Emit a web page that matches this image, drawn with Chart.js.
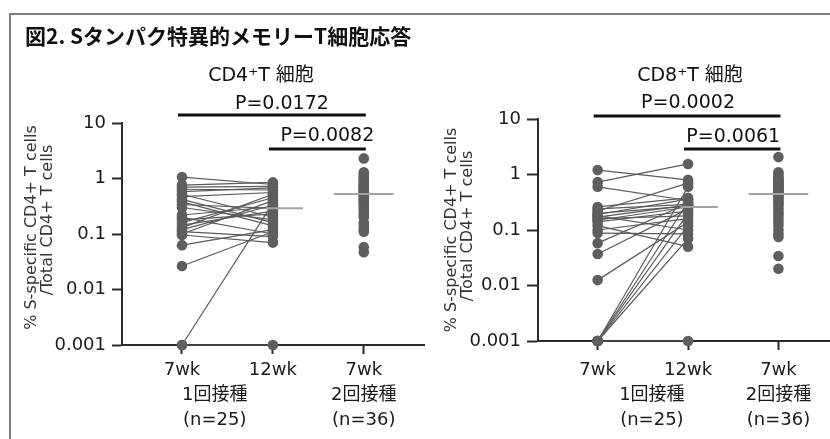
<!DOCTYPE html>
<html><head><meta charset="utf-8">
<script src="https://cdn.jsdelivr.net/npm/chart.js@4"></script>
<style>
html,body{margin:0;padding:0;background:#fff;overflow:hidden;width:830px;height:439px;}
#frame{position:absolute;left:9px;top:13px;width:900px;height:500px;border:2px solid #7d7d7d;box-sizing:border-box;}
.t{position:absolute;color:#111;white-space:nowrap;}
#title{left:25px;top:22px;font:bold 21px "Noto Sans CJK JP",sans-serif;line-height:26px;}
.sub{width:220px;text-align:center;top:62px;font:19px "DejaVu Sans","Noto Sans CJK JP",sans-serif;line-height:24px;}
canvas{position:absolute;top:0;}
</style></head>
<body>
<div id="frame"></div>
<canvas id="c1" width="430" height="439" style="left:0px"></canvas>
<canvas id="c2" width="430" height="439" style="left:420px"></canvas>
<div class="t" id="title">図2. Sタンパク特異的メモリーT細胞応答</div>
<div class="t sub" style="left:151px">CD4⁺T 細胞</div>
<div class="t sub" style="left:580px">CD8⁺T 細胞</div>
<script>
// ---- data ----
const yTickValues = [0.001, 0.01, 0.1, 1, 10];
const yTickLabels = ['0.001', '0.01', '0.1', '1', '10'];
const xLabels = ['7wk', '12wk', ['7wk', '2回接種', '(n=36)']];
const firstDoseLabel = ['', '1回接種', '(n=25)'];
const yTitle = ['% S-specific CD4+ T cells', '/Total CD4+ T cells'];

// CD4+ T cells
const cd4_1dose_7wk  = [1.06,0.76,0.70,0.64,0.58,0.52,0.47,0.42,0.38,0.34,0.30,0.22,0.20,0.18,0.16,0.145,0.13,0.12,0.11,0.10,0.096,0.063,0.0265,0.001,0.001];
const cd4_1dose_12wk = [0.78,0.85,0.72,0.62,0.68,0.20,0.56,0.16,0.14,0.29,0.18,0.31,0.10,0.23,0.45,0.26,0.52,0.33,0.09,0.40,0.07,0.12,0.11,0.36,0.001];
const cd4_2dose_7wk  = [2.3,1.3,1.2,1.1,1.0,0.95,0.9,0.85,0.8,0.75,0.72,0.68,0.65,0.62,0.6,0.58,0.56,0.53,0.52,0.48,0.45,0.42,0.4,0.37,0.34,0.31,0.28,0.25,0.22,0.2,0.16,0.14,0.12,0.11,0.058,0.047];
const cd4_pLabels = ['P=0.0172', 'P=0.0082'];

// CD8+ T cells
const cd8_1dose_7wk  = [1.2,0.73,0.6,0.26,0.24,0.22,0.2,0.19,0.18,0.17,0.16,0.15,0.14,0.12,0.1,0.088,0.058,0.037,0.0125,0.001,0.001,0.001,0.001,0.001,0.001];
const cd8_1dose_12wk = [0.8,1.55,0.34,0.38,0.29,0.7,0.27,0.36,0.1,0.28,0.18,0.26,0.22,0.05,0.16,0.085,0.3,0.24,0.14,0.6,0.32,0.2,0.12,0.07,0.001];
const cd8_2dose_7wk  = [2.06,1.1,1.0,0.9,0.85,0.8,0.76,0.72,0.68,0.65,0.62,0.6,0.57,0.54,0.52,0.5,0.48,0.46,0.435,0.41,0.38,0.35,0.32,0.29,0.26,0.23,0.2,0.18,0.16,0.14,0.12,0.1,0.085,0.075,0.034,0.02];
const cd8_pLabels = ['P=0.0002', 'P=0.0061'];

// ---- helpers ----
function median(a){const s=[...a].sort((p,q)=>p-q);const n=s.length;return n%2?s[(n-1)/2]:(s[n/2-1]+s[n/2])/2;}
const DOT='#5e5e5e', PAIR='#5a5a5a', MED='#a3a3a3', AX='#2b2b2b';
const FONT='"DejaVu Sans","Noto Sans CJK JP",sans-serif';

const annot = {
  id:'annot',
  afterDraw(chart, args, o){
    const {ctx} = chart; const x = chart.scales.x;
    ctx.save();
    o.brackets.forEach(b=>{
      const x1 = x.getPixelForValue(b.from)-4, x2 = x.getPixelForValue(b.to)+2;
      ctx.strokeStyle='#111'; ctx.lineWidth=3;
      ctx.beginPath(); ctx.moveTo(x1,b.y); ctx.lineTo(x2,b.y); ctx.stroke();
      ctx.font='19px '+FONT; ctx.fillStyle='#111'; ctx.textAlign='center'; ctx.textBaseline='middle';
      ctx.fillText(b.label,(x1+x2)/2+o.textDx,b.ty);
    });
    ctx.font='16px '+FONT; ctx.fillStyle='#333'; ctx.textAlign='center'; ctx.textBaseline='middle';
    o.yTitlePos.forEach((p,i)=>{
      ctx.save(); ctx.translate(p.x,p.y); ctx.rotate(-Math.PI/2); ctx.fillText(yTitle[i],0,0); ctx.restore();
    });
    ctx.restore();
  }
};

function makeChart(id, v7, v12, v2, pLabels, L){
  const datasets=[];
  // medians
  [[v12,0.92,1.33],[v2,1.67,2.33]].forEach(([arr,a,b])=>{
    const m=median(arr);
    datasets.push({data:[{x:a,y:m},{x:b,y:m}],showLine:true,borderColor:MED,borderWidth:2,pointRadius:0,order:0,clip:false});
  });
  // dots
  [[v7,0],[v12,1],[v2,2]].forEach(([arr,c])=>{
    datasets.push({data:arr.map(v=>({x:c,y:v})),pointRadius:5.3,pointBackgroundColor:DOT,pointBorderWidth:0,showLine:false,order:1,clip:false});
  });
  // paired lines
  v7.forEach((v,i)=>{
    datasets.push({data:[{x:0,y:v},{x:1,y:v12[i]}],showLine:true,borderColor:PAIR,borderWidth:1.2,pointRadius:0,order:2,clip:false});
  });
  const xTicks=[0,L.doseX,1,2];
  return new Chart(document.getElementById(id),{
    type:'scatter',
    data:{datasets},
    options:{
      responsive:false,animation:false,events:[],devicePixelRatio:1,
      layout:{padding:{top:L.top,left:0,right:L.padRight,bottom:0}},
      plugins:{legend:{display:false},tooltip:{enabled:false},
        annot:{brackets:[
          {from:0,to:2,y:L.br[0],ty:L.tx[0],label:pLabels[0]},
          {from:1,to:2,y:L.br[1],ty:L.tx[1],label:pLabels[1]}],
          textDx:L.textDx,yTitlePos:L.yTitlePos}},
      scales:{
        x:{type:'linear',min:-0.66,max:2.67,
          afterFit:s=>{s.height=L.xH;},
          afterBuildTicks:s=>{s.ticks=xTicks.map(v=>({value:v}));},
          grid:{drawOnChartArea:false,drawTicks:true,tickLength:9,tickWidth:2,
            tickColor:c=>(c.tick&&c.tick.value===L.doseX)?'rgba(0,0,0,0)':AX},
          border:{display:true,color:AX,width:2},
          ticks:{autoSkip:false,maxRotation:0,padding:L.xPad,color:'#1a1a1a',
            font:{family:FONT,size:18,lineHeight:1.39},
            callback:(v)=>{ if(v===L.doseX) return firstDoseLabel; return xLabels[[0,1,2].indexOf(v)]; }}
        },
        y:{type:'logarithmic',min:0.001,max:10,
          afterFit:s=>{s.width=L.yW;},
          afterBuildTicks:s=>{s.ticks=yTickValues.map(v=>({value:v}));},
          grid:{drawOnChartArea:false,drawTicks:true,tickLength:L.yTL,tickWidth:2,tickColor:AX},
          border:{display:true,color:AX,width:2},
          ticks:{padding:L.yPad,color:'#1a1a1a',font:{family:FONT,size:18},
            callback:(v)=>yTickLabels[yTickValues.indexOf(v)]}
        }
      }
    },
    plugins:[annot]
  });
}

makeChart('c1', cd4_1dose_7wk, cd4_1dose_12wk, cd4_2dose_7wk, cd4_pLabels,
  {top:123,padRight:5,xH:94,yW:122,xPad:4,yTL:10,yPad:6,doseX:0.36,
   br:[115,149],tx:[104,136],textDx:10,
   yTitlePos:[{x:32,y:227.5},{x:48,y:220}]});
makeChart('c2', cd8_1dose_7wk, cd8_1dose_12wk, cd8_2dose_7wk, cd8_pLabels,
  {top:119,padRight:11,xH:98,yW:118,xPad:8,yTL:11,yPad:6,doseX:0.6,
   br:[116,149],tx:[103,137],textDx:1,
   yTitlePos:[{x:32,y:230},{x:48,y:226}]});
</script>
</body></html>
